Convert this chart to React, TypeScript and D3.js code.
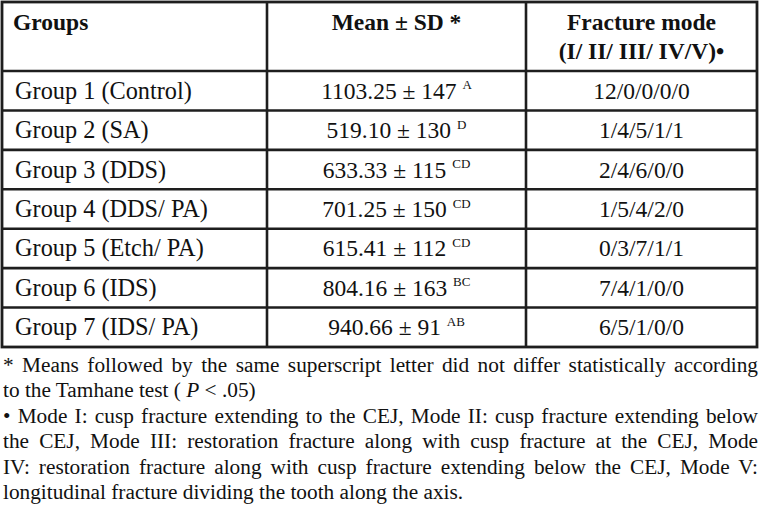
import React, { useEffect, useRef } from 'react';
import * as d3 from 'd3';

// table data
const groups = [
  'Group 1 (Control)',
  'Group 2 (SA)',
  'Group 3 (DDS)',
  'Group 4 (DDS/ PA)',
  'Group 5 (Etch/ PA)',
  'Group 6 (IDS)',
  'Group 7 (IDS/ PA)',
];
const means = [1103.25, 519.1, 633.33, 701.25, 615.41, 804.16, 940.66];
const sds = [147, 130, 115, 150, 112, 163, 91];
const letters = ['A', 'D', 'CD', 'CD', 'CD', 'BC', 'AB'];
const modes = [
  [12, 0, 0, 0, 0],
  [1, 4, 5, 1, 1],
  [2, 4, 6, 0, 0],
  [1, 5, 4, 2, 0],
  [0, 3, 7, 1, 1],
  [7, 4, 1, 0, 0],
  [6, 5, 1, 0, 0],
];
const headers = [['Groups'], ['Mean ± SD *'], ['Fracture mode', '(I/ II/ III/ IV/V)•']];

const notes = [
  { text: '* Means followed by the same superscript letter did not differ statistically according', justify: true },
  { text: 'to the Tamhane test ( ', italic: 'P', after: ' < .05)', justify: false },
  { text: '• Mode I: cusp fracture extending to the CEJ, Mode II: cusp fracture extending below', justify: true },
  { text: 'the CEJ, Mode III: restoration fracture along with cusp fracture at the CEJ, Mode', justify: true },
  { text: 'IV: restoration fracture along with cusp fracture extending below the CEJ, Mode V:', justify: true },
  { text: 'longitudinal fracture dividing the tooth along the axis.', justify: false },
];
const noteBaselines = [372, 397, 423, 448, 474, 499];

const W = 762;
const H = 509;
const left = 2;
const right = 757;
const top = 2;
const headBottom = 71;
const bottom = 347;
const colEdges = [left, 267, 526, right];
const stroke = '#1e1e1e';
const font = '"Liberation Serif", "Times New Roman", serif';

const App = () => {
  const svgRef = useRef<SVGSVGElement>(null);

  const y = d3.scaleBand<string>().domain(groups).range([headBottom, bottom]);
  const colCenter = (i: number) => (colEdges[i] + colEdges[i + 1]) / 2;

  useEffect(() => {
    const svg = d3.select(svgRef.current);
    svg.selectAll<SVGTextElement, unknown>('text.justify').each(function () {
      const el = this as SVGTextElement;
      el.style.wordSpacing = '0px';
      const natural = el.getComputedTextLength();
      const spaces = (el.textContent || '').split(' ').length - 1;
      const target = right + 1 - 3;
      if (spaces > 0) el.style.wordSpacing = `${(target - natural) / spaces}px`;
    });
  }, []);

  return (
    <svg
      ref={svgRef}
      width={W}
      height={H}
      style={{ position: 'absolute', left: 0, top: 0, background: '#fff' }}
      fontFamily={font}
    >
      {/* horizontal rules */}
      {[headBottom, ...groups.slice(1).map((g) => y(g) as number)].map((yy, i) => (
        <line key={`h${i}`} x1={left} x2={right} y1={yy} y2={yy} stroke={stroke} strokeWidth={2.6} />
      ))}
      {/* column rules */}
      {colEdges.slice(1, 3).map((xx, i) => (
        <line key={`v${i}`} x1={xx} x2={xx} y1={top} y2={bottom} stroke={stroke} strokeWidth={2.6} />
      ))}
      <rect x={left} y={top} width={right - left} height={bottom - top} fill="none" stroke={stroke} strokeWidth={2.8} />

      {/* header */}
      {headers.map((lines, ci) =>
        lines.map((t, li) => (
          <text
            key={`hd${ci}-${li}`}
            x={ci === 0 ? 13 : colCenter(ci)}
            y={30 + li * 29}
            textAnchor={ci === 0 ? 'start' : 'middle'}
            fontWeight="bold"
            fontSize={23.5}
            fill="#111"
          >
            {t}
          </text>
        ))
      )}

      {/* body rows */}
      {groups.map((g, i) => {
        const cy = (y(g) as number) + y.bandwidth() / 2 + 8;
        return (
          <g key={g} fontSize={23.5} fill="#111">
            <text x={15} y={cy} fontSize={24.3}>{g}</text>
            <text x={colCenter(1)} y={cy} textAnchor="middle">
              {`${means[i].toFixed(2)} ± ${sds[i]} `}
              <tspan fontSize={13} dy={-9.5}>{letters[i]}</tspan>
            </text>
            <text x={colCenter(2)} y={cy} textAnchor="middle">
              {modes[i].join('/')}
            </text>
          </g>
        );
      })}

      {/* footnotes */}
      {notes.map((n, i) => (
        <text
          key={`n${i}`}
          className={n.justify ? 'justify' : undefined}
          x={3}
          y={noteBaselines[i]}
          fontSize={21.3}
          fill="#111"
        >
          {n.text}
          {n.italic ? <tspan fontStyle="italic">{n.italic}</tspan> : null}
          {n.after || null}
        </text>
      ))}
    </svg>
  );
};

export default App;
